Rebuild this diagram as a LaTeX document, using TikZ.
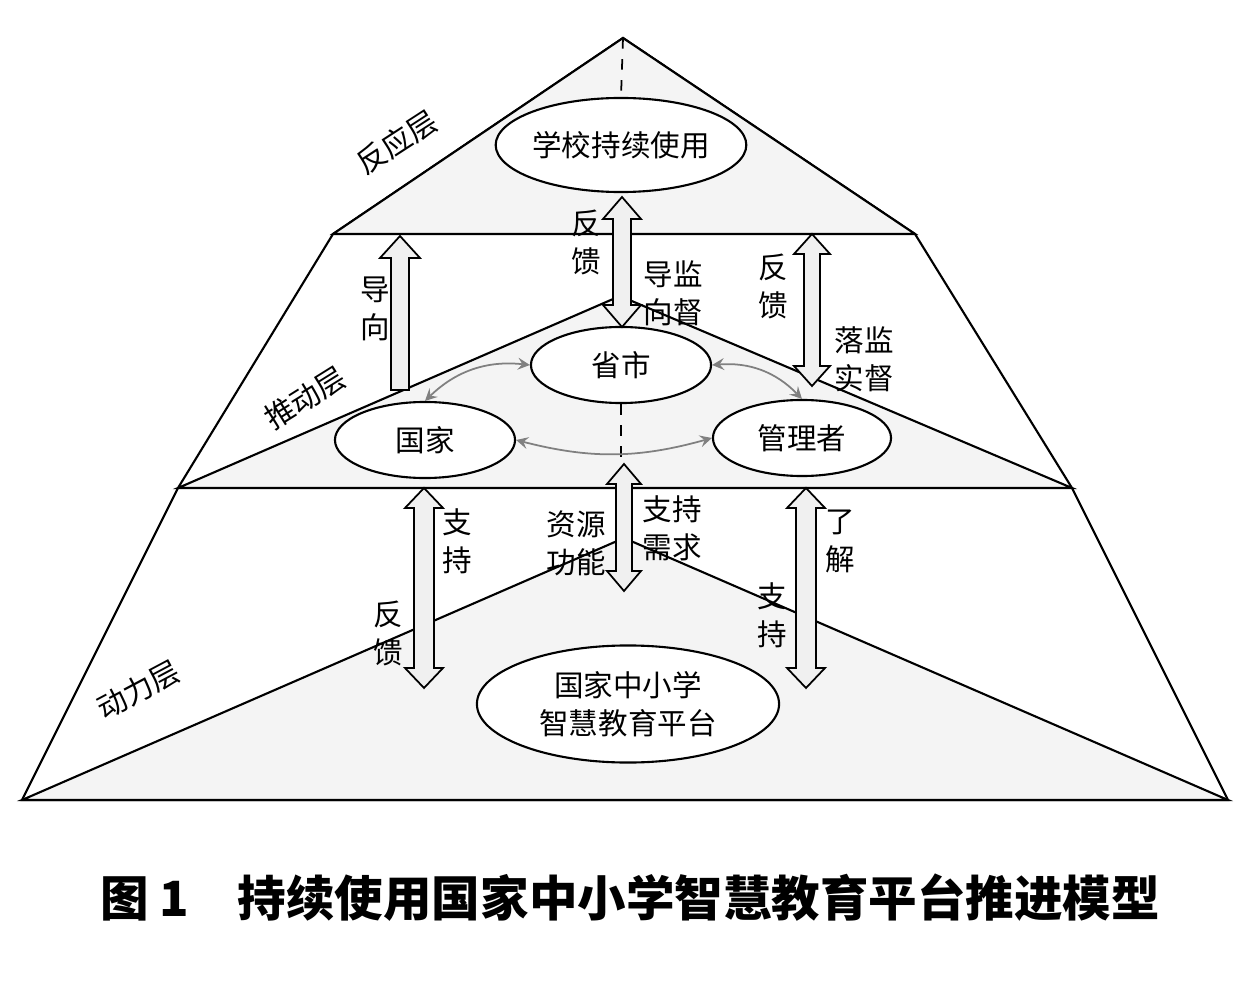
\documentclass[tikz,border=0pt]{standalone}
\usepackage{fontspec}
\usepackage{tikz}
\usetikzlibrary{shapes.geometric}
\newfontfamily\cjk{Noto Sans CJK SC}

\tikzset{
  ebene/.style={fill=gray!9,draw=black,line width=0.6pt},
  kreis/.style={ellipse,draw=black,fill=white,line width=0.6pt,inner sep=0pt,align=center,
    font=\cjk\fontsize{8.4}{10.8}\selectfont},
  pfeil/.style={fill=gray!12,draw=black,line width=0.5pt},
  schrift/.style={font=\cjk\fontsize{8.4}{10.8}\selectfont,align=center,inner sep=0pt},
  link/.style={draw=gray,line width=0.5pt,<->,>=stealth},
}

\begin{document}
\begin{tikzpicture}[x=0.01cm,y=-0.01cm]
				\useasboundingbox (0,0) rectangle (1254,991);
				% Umriss der Pyramide
				\draw[line width=0.6pt,fill=white] (623,38) -- (915,234) -- (1072,488) -- (1228,800)
				-- (22,800) -- (178,488) -- (333,234) -- cycle;
				% drei Ebenen
				\draw[ebene] (623,38) -- (915,234) -- (333,234) -- cycle;
				\draw[ebene] (620,296) -- (1072,488) -- (178,488) -- cycle;
				\draw[ebene] (624,538) -- (1228,800) -- (22,800) -- cycle;
				\coordinate (spitze) at (623,38);
				\coordinate (mitte) at (621,464);
				% Ellipsen
				\node[kreis,minimum width=2.24cm,minimum height=0.94cm] (schule) at (621,145) {学校持续使用};
				\node[kreis,minimum width=1.8cm,minimum height=0.76cm] (prov) at (621,365) {省市};
				\node[kreis,minimum width=1.8cm,minimum height=0.76cm] (staat) at (425,440) {国家};
				\node[kreis,minimum width=1.78cm,minimum height=0.76cm] (verw) at (802,438) {管理者};
				\node[kreis,minimum width=3.02cm,minimum height=1.17cm] (platt) at (628,704) {国家中小学\\智慧教育平台};
				\draw[dashed,line width=0.5pt] (spitze) -- (schule.north);
				\draw[dashed,line width=0.5pt] (prov.south) -- (mitte);
				% Blockpfeile
				\draw[pfeil] (400,236) -- (420,258) -- (409,258) -- (409,390) -- (391,390) -- (391,258) -- (380,258) -- cycle;
				\draw[pfeil] (622,197) -- (641,219) -- (631,219) -- (631,305) -- (641,305) -- (622,327)
				-- (603,305) -- (613,305) -- (613,219) -- (603,219) -- cycle;
				\draw[pfeil] (812,234) -- (830,254) -- (820,254) -- (820,366) -- (830,366) -- (812,386)
				-- (794,366) -- (804,366) -- (804,254) -- (794,254) -- cycle;
				\draw[pfeil] (624,464) -- (641,484) -- (632,484) -- (632,571) -- (641,571) -- (624,591)
				-- (607,571) -- (616,571) -- (616,484) -- (607,484) -- cycle;
				\draw[pfeil] (424,488) -- (443,508) -- (434,508) -- (434,668) -- (443,668) -- (424,688)
				-- (405,668) -- (414,668) -- (414,508) -- (405,508) -- cycle;
				\draw[pfeil] (806,488) -- (825,508) -- (816,508) -- (816,668) -- (825,668) -- (806,688)
				-- (787,668) -- (796,668) -- (796,508) -- (787,508) -- cycle;
				% graue Verbindungen
				\draw[link] (prov.west) to[bend right=25] (staat.north);
				\draw[link] (prov.east) to[bend left=25] (verw.north);
				\draw[link] (staat.east) to[bend right=15] (verw.west);
				% Beschriftungen
				\node[schrift,rotate=33] (reaktion) at (397,142) {反应层};
				\node[schrift,rotate=32] (antrieb) at (305,398) {推动层};
				\node[schrift,rotate=28] (kraft) at (138,690) {动力层};
				\node[schrift] (fbOben) at (586,242) {反\\馈};
				\node[schrift] (fuehrung) at (673,293) {导监\\向督};
				\node[schrift] (fbRechts) at (773,286) {反\\馈};
				\node[schrift] (umsetzung) at (864,359) {落监\\实督};
				\node[schrift] (richtung) at (375,309) {导\\向};
				\node[schrift] (zcLinks) at (457,541) {支\\持};
				\node[schrift] (fbUnten) at (388,633) {反\\馈};
				\node[schrift] (ressource) at (576,543) {资源\\功能};
				\node[schrift] (bedarf) at (672,528) {支持\\需求};
				\node[schrift] (verstehen) at (840,541) {了\\解};
				\node[schrift] (zcRechts) at (772,615) {支\\持};
				\node[font=\cjk\bfseries\fontsize{13.8}{16}\selectfont] (titel) at (630,898)
				{图 1\quad 持续使用国家中小学智慧教育平台推进模型};
\end{tikzpicture}
\end{document}
